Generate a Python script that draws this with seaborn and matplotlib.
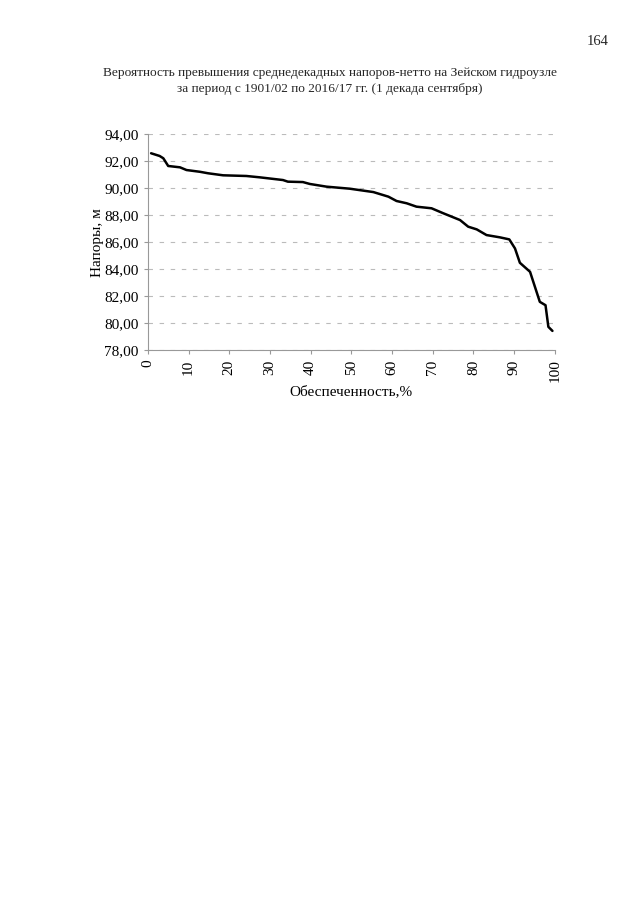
import matplotlib
matplotlib.use("Agg")
import matplotlib.pyplot as plt
import matplotlib.ticker as mticker
import seaborn as sns
import pandas as pd

# Обеспеченность, %
obespech = [0.8, 2.9, 3.8, 5.0, 7.9, 9.5, 12.8, 14.8, 18.5, 24.2, 27.5, 33.2,
            34.4, 38.1, 39.8, 43.9, 49.6, 55.4, 59.1, 61.1, 63.6, 66.0, 69.7,
            72.6, 76.7, 78.7, 80.8, 83.2, 86.5, 88.8, 90.2, 91.4, 93.9, 95.1,
            96.3, 97.7, 98.4, 99.4]
# Напоры, м
napory = [92.57, 92.37, 92.20, 91.63, 91.53, 91.33, 91.20, 91.09, 90.94, 90.89,
          90.79, 90.59, 90.47, 90.44, 90.30, 90.10, 89.95, 89.70, 89.36, 89.04,
          88.87, 88.62, 88.50, 88.13, 87.63, 87.14, 86.94, 86.52, 86.35, 86.20,
          85.53, 84.47, 83.80, 82.69, 81.58, 81.33, 79.73, 79.43]

x_ticks = [0, 10, 20, 30, 40, 50, 60, 70, 80, 90, 100]
y_ticks = [78, 80, 82, 84, 86, 88, 90, 92, 94]

title = ("Вероятность превышения среднедекадных напоров-нетто на Зейском гидроузле\n"
         "за период с 1901/02 по 2016/17 гг. (1 декада сентября)")

df = pd.DataFrame({"x": obespech, "y": napory})

sns.set_style("white")
plt.rcParams['font.family'] = ['Liberation Serif', 'DejaVu Serif']

fig = plt.figure(figsize=(6.4, 9.05), dpi=100)
ax = fig.add_axes([0.231, 0.613, 0.636, 0.239])

sns.lineplot(data=df, x="x", y="y", color="black", lw=1.8, ax=ax)

ax.set_xlim(0, 100)
ax.set_ylim(78, 94)
ax.set_xticks(x_ticks)
ax.set_yticks(y_ticks)
ax.set_xticklabels([str(t) for t in x_ticks], rotation=90)
ax.yaxis.set_major_formatter(mticker.FuncFormatter(lambda v, p: f"{v:.2f}".replace(".", ",")))
ax.tick_params(axis="both", labelsize=11, length=3, color="#999999", direction="out",
               bottom=True, left=True, labelcolor="black")
ax.grid(axis="y", color="#bbbbbb", ls=(0, (4, 6)), lw=0.8)
for s in ["top", "right"]:
    ax.spines[s].set_visible(False)
for s in ["left", "bottom"]:
    ax.spines[s].set_color("#999999")
    ax.spines[s].set_linewidth(0.8)

ax.set_xlabel("Обеспеченность,%", fontsize=11, labelpad=2, color="black")
ax.set_ylabel("Напоры, м", fontsize=11, labelpad=0, color="black")

fig.text(0.516, 0.911, title, ha="center", va="center", fontsize=9.6, linespacing=1.45)
fig.text(0.934, 0.954, "164", ha="center", va="center", fontsize=10.5)

fig.savefig("out.png", dpi=100)
